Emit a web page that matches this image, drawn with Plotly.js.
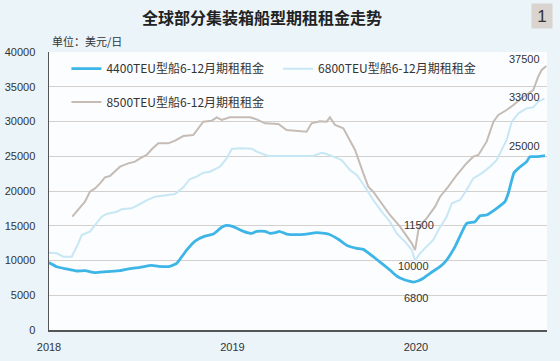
<!DOCTYPE html>
<html>
<head>
<meta charset="utf-8">
<script src="https://cdn.plot.ly/plotly-3.0.1.min.js"></script>
<style>html,body{margin:0;padding:0;background:#eaf4f9;}#chart{width:560px;height:361px;}</style>
</head>
<body>
<div id="chart"></div>
<script>
// ---- data (x = time in decimal years, y = USD/day) ----
const seriesNames = ["4400TEU型船6-12月期租租金", "6800TEU型船6-12月期租租金", "8500TEU型船6-12月期租租金"];

const x4400 = [2018.000,2018.042,2018.096,2018.151,2018.196,2018.251,2018.314,2018.387,2018.441,2018.496,2018.560,2018.596,2018.659,2018.696,2018.750,2018.796,2018.850,2018.895,2018.941,2018.968,2019.004,2019.059,2019.105,2019.132,2019.177,2019.204,2019.232,2019.255,2019.295,2019.350,2019.404,2019.459,2019.522,2019.577,2019.622,2019.677,2019.713,2019.767,2019.813,2019.858,2019.894,2019.940,2019.967,2019.984,2020.013,2020.040,2020.077,2020.104,2020.131,2020.167,2020.213,2020.276,2020.322,2020.349,2020.385,2020.440,2020.485,2020.503,2020.534,2020.558,2020.603,2020.621,2020.658,2020.703];
const y4400 = [9700,9100,8780,8490,8530,8250,8400,8530,8820,9020,9300,9160,9160,9590,11500,12800,13500,13800,14780,15060,14870,14200,13910,14200,14200,13910,14000,14200,13810,13720,13810,14000,13810,13050,12190,11750,11600,10550,9590,8630,7770,7190,7000,6900,7090,7440,8160,8630,9110,10070,11990,15350,15580,16440,16550,17510,18470,19670,22630,23260,24220,24940,24940,25080];

const x6800 = [2018.000,2018.042,2018.078,2018.124,2018.160,2018.178,2018.223,2018.251,2018.287,2018.314,2018.369,2018.396,2018.451,2018.496,2018.532,2018.578,2018.632,2018.687,2018.732,2018.768,2018.805,2018.841,2018.877,2018.932,2018.968,2018.996,2019.041,2019.105,2019.132,2019.168,2019.195,2019.295,2019.440,2019.486,2019.513,2019.549,2019.595,2019.640,2019.677,2019.722,2019.767,2019.813,2019.858,2019.895,2019.940,2019.977,2019.995,2020.022,2020.058,2020.094,2020.122,2020.167,2020.195,2020.240,2020.276,2020.312,2020.358,2020.403,2020.440,2020.458,2020.494,2020.522,2020.558,2020.603,2020.639,2020.666,2020.700];
const y6800 = [11120,11030,10550,10550,12470,13670,14140,15110,16300,16690,17020,17370,17510,18130,18650,19180,19420,19570,20530,21730,22060,22630,22780,23500,24700,26050,26140,26090,25660,25320,25040,25040,25040,25510,25320,24940,24460,23020,22300,20620,18700,17020,15580,13910,12700,11510,10000,11040,11990,12950,14390,16300,18230,18700,20140,21820,22540,23500,24460,25420,27340,29980,31170,31890,32040,32850,33300];

const x8500 = [2018.127,2018.169,2018.196,2018.223,2018.251,2018.278,2018.305,2018.332,2018.360,2018.387,2018.432,2018.469,2018.496,2018.532,2018.560,2018.596,2018.650,2018.687,2018.732,2018.786,2018.841,2018.887,2018.914,2018.941,2018.986,2019.095,2019.132,2019.177,2019.250,2019.295,2019.404,2019.431,2019.477,2019.513,2019.531,2019.559,2019.604,2019.640,2019.668,2019.713,2019.740,2019.767,2019.813,2019.858,2019.913,2019.949,2019.977,2019.995,2020.007,2020.013,2020.031,2020.058,2020.104,2020.131,2020.176,2020.222,2020.276,2020.312,2020.340,2020.385,2020.422,2020.449,2020.494,2020.531,2020.585,2020.621,2020.639,2020.666,2020.685,2020.710];
const y8500 = [16300,17650,18470,19900,20380,21100,21970,22160,22780,23500,23980,24220,24700,25180,26000,26860,26860,27240,27910,28060,29980,30120,30600,30220,30600,30600,30310,29740,29640,28780,28540,29740,30020,29980,30600,29500,29020,27340,25900,22540,20620,19900,18230,16550,14870,13430,12470,11500,13430,14390,15300,16070,17740,19180,20620,22300,24000,24940,25180,27100,29980,30940,31650,32370,33570,34290,34530,36450,37410,37990];

const yTicks = [0,5000,10000,15000,20000,25000,30000,35000,40000];
const yTickLabels = ["0","5000","10000","15000","20000","25000","30000","35000","40000"];
const xTicks = [2018, 2019, 2020];
const xTickLabels = ["2018", "2019", "2020"];

const callouts = [
  {x: 2020.594, y: 38950, text: "37500"},
  {x: 2020.594, y: 33570, text: "33000"},
  {x: 2020.594, y: 26470, text: "25000"},
  {x: 2020.015, y: 15110, text: "11500"},
  {x: 2019.984, y: 9250, text: "10000"},
  {x: 2020.000, y: 4650, text: "6800"}
];

const FONT = "Liberation Sans, Arial, Noto Sans CJK SC, sans-serif";
const CJK = "Noto Sans CJK SC, Liberation Sans, sans-serif";

const traces = [
  {x: x4400, y: y4400, name: seriesNames[0], type: "scatter", mode: "lines",
   line: {color: "#3db5e6", width: 2.8, shape: "spline", smoothing: 0.4}, legend: "legend"},
  {x: x6800, y: y6800, name: seriesNames[1], type: "scatter", mode: "lines",
   line: {color: "#c8e7f5", width: 2, shape: "linear"}, legend: "legend2"},
  {x: x8500, y: y8500, name: seriesNames[2], type: "scatter", mode: "lines",
   line: {color: "#c5bcb6", width: 2, shape: "linear"}, legend: "legend3"}
];

const legendBase = {orientation: "v", xanchor: "left", yanchor: "middle",
  bgcolor: "rgba(0,0,0,0)", borderwidth: 0,
  font: {family: CJK, size: 12, color: "#333333"}};

const annotations = callouts.map(c => ({
  x: c.x, y: c.y, xref: "x", yref: "y", text: c.text, showarrow: false,
  font: {family: FONT, size: 11, color: "#333333"}, xanchor: "center", yanchor: "middle"
}));
annotations.push({
  x: 0.002, y: 1.04, xref: "paper", yref: "paper", text: "单位：美元/日", showarrow: false,
  xanchor: "left", yanchor: "middle", font: {family: CJK, size: 11, color: "#333333"}
});
annotations.push({
  x: 0.99, y: 1.129, xref: "paper", yref: "paper", text: "1", showarrow: false,
  xanchor: "center", yanchor: "middle", bgcolor: "#d9d4cf", width: 18, height: 22,
  font: {family: FONT, size: 17, color: "#333333"}
});

const layout = {
  width: 560, height: 361,
  margin: {l: 49, r: 13, t: 52, b: 31, pad: 0},
  paper_bgcolor: "#eaf4f9",
  plot_bgcolor: "#fcfdfe",
  font: {family: FONT, size: 11, color: "#333333"},
  title: {text: "<b>全球部分集装箱船型期租租金走势</b>", x: 0.468, xanchor: "center",
          y: 0.95, yanchor: "middle", yref: "container",
          font: {family: CJK, size: 16, color: "#222222"}},
  showlegend: true,
  legend: Object.assign({}, legendBase, {x: 0.035, y: 0.94}),
  legend2: Object.assign({}, legendBase, {x: 0.46, y: 0.94}),
  legend3: Object.assign({}, legendBase, {x: 0.035, y: 0.82}),
  xaxis: {range: [2018, 2020.714], tickvals: xTicks, ticktext: xTickLabels,
          showgrid: false, zeroline: false, showline: true, linecolor: "#555555", linewidth: 1.5,
          ticks: "", ticklabelstandoff: 6, tickfont: {size: 11, color: "#333333"}, fixedrange: true},
  yaxis: {range: [0, 40000], tickvals: yTicks, ticktext: yTickLabels, showgrid: true, gridcolor: "#d3d0ce", gridwidth: 1,
          zeroline: false, showline: true, linecolor: "#555555", linewidth: 1.5,
          ticks: "", ticklabelstandoff: 10, tickfont: {size: 11, color: "#333333"}, fixedrange: true},
  annotations: annotations
};

Plotly.newPlot("chart", traces, layout, {displayModeBar: false, staticPlot: true});
</script>
</body>
</html>
